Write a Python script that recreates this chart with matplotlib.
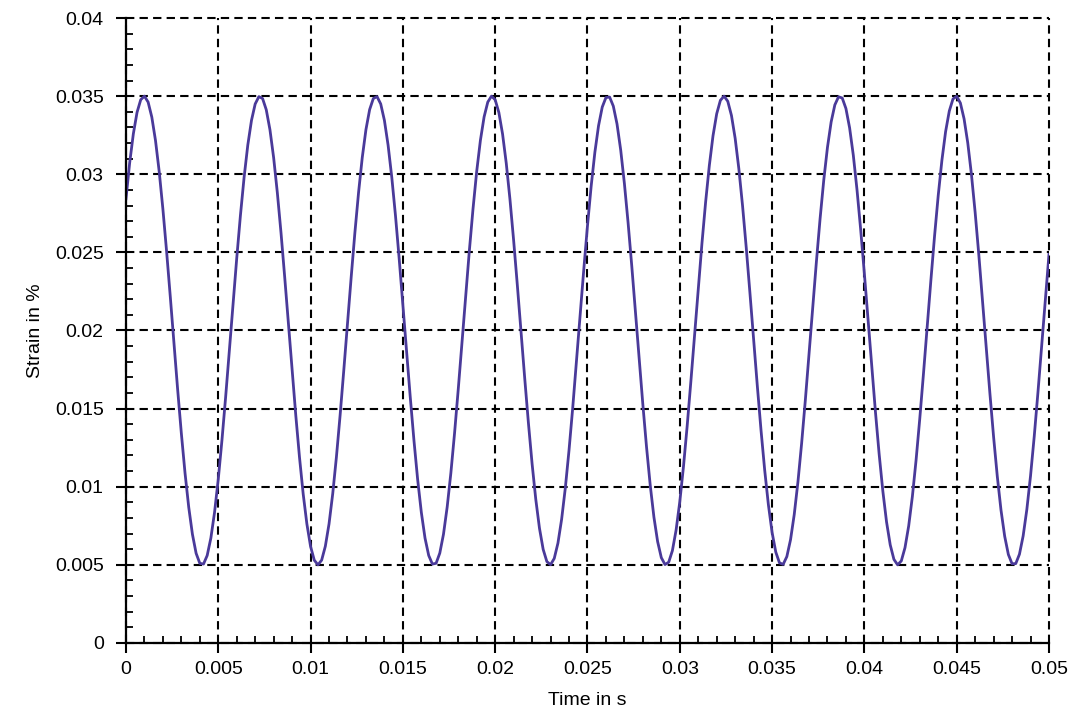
import numpy as np
import matplotlib
matplotlib.use("Agg")
import matplotlib.pyplot as plt
from matplotlib.ticker import MultipleLocator, FuncFormatter

# Time samples (s): 0 to 0.05 in steps of 0.0002
time_start = 0.0
time_step = 0.0002
# Strain values, in units of 1e-5 %
strain_e5 = [
    2842,3072,3259,3396,3477,3500,3462,3366,3216,3018,2778,2508,2218,1918,1622,1342,1087,869,696,574,
    510,505,560,672,837,1048,1298,1575,1869,2169,2462,2736,2981,3187,3345,3450,3497,3485,3413,3285,
    3106,2882,2624,2340,2043,1744,1456,1189,954,762,618,530,500,530,619,762,955,1190,1457,1746,
    2044,2341,2625,2883,3107,3286,3414,3485,3497,3450,3345,3186,2980,2735,2460,2168,1868,1574,1297,1047,
    836,671,560,505,510,575,696,870,1088,1343,1624,1920,2219,2509,2779,3019,3217,3367,3462,3500,
    3477,3395,3258,3071,2841,2577,2291,1993,1695,1409,1147,919,734,599,521,501,541,639,792,992,
    1233,1504,1796,2095,2390,2670,2924,3140,3311,3430,3491,3494,3436,3322,3155,2941,2690,2412,2117,1818,
    1526,1253,1009,805,649,546,502,517,591,722,903,1129,1388,1673,1970,2269,2556,2822,3055,3246,
    3387,3473,3500,3467,3376,3230,3035,2799,2531,2241,1942,1646,1363,1106,885,708,582,513,503,553,
    661,822,1030,1277,1552,1846,2145,2439,2715,2963,3172,3335,3444,3496,3488,3421,3297,3122,2901,2645,
    2363,2067,1768,1478,1209,972,775,628,535,500,525,610,749,938,1170,1435,1722,2021,2318,2603,
    2864,3090,3273,3405,3482,3499,3456,3355,3201,2998,2756,2483,2191,1892,1597,1318,1066,851,683,566,
    507,508,568,685,854,1069,1321,1601,1896,2195,2487,
]
x_label = "Time in s"
y_label = "Strain in %"
x_ticks = [0, 0.005, 0.01, 0.015, 0.02, 0.025, 0.03, 0.035, 0.04, 0.045, 0.05]
y_ticks = [0, 0.005, 0.01, 0.015, 0.02, 0.025, 0.03, 0.035, 0.04]

strain = np.array(strain_e5) * 1e-5
time = time_start + time_step * np.arange(len(strain))

plt.rcParams['font.family'] = ['Liberation Sans', 'DejaVu Sans']
fig = plt.figure(figsize=(10.84, 7.18), dpi=100)
fig.patch.set_facecolor('white')
ax = fig.add_axes([0.1162, 0.1045, 0.9677 - 0.1162, 0.9749 - 0.1045])

ax.plot(time, strain, color='#4a3a9a', lw=2.0, zorder=3)
ax.set_xlim(0, 0.05)
ax.set_ylim(0, 0.04)
ax.set_xticks(x_ticks)
ax.set_yticks(y_ticks)
fmt = FuncFormatter(lambda v, p: "%g" % round(v, 6))
ax.xaxis.set_major_formatter(fmt)
ax.yaxis.set_major_formatter(fmt)
ax.xaxis.set_minor_locator(MultipleLocator(0.001))
ax.yaxis.set_minor_locator(MultipleLocator(0.001))

ax.grid(True, which='major', color='black', linestyle=(0, (4, 2.5)), lw=1.5)
ax.set_axisbelow(True)
for gl in ax.get_xgridlines() + ax.get_ygridlines():
    gl.set_clip_on(False)
for s in ['top', 'right']:
    ax.spines[s].set_visible(False)
for s in ['left', 'bottom']:
    ax.spines[s].set_linewidth(1.6)
    ax.spines[s].set_zorder(4)

ax.tick_params(which='major', direction='out', length=7, width=1.5, labelsize=14, colors='black')
ax.tick_params(axis='y', which='major', pad=9)
ax.tick_params(axis='x', which='major', pad=6)
ax.tick_params(which='minor', direction='in', length=5, width=1.3)

ax.set_xlabel(x_label, fontsize=14, labelpad=10)
ax.set_ylabel(y_label, fontsize=14, labelpad=8)

fig.savefig('out.png', dpi=100, facecolor='white')
